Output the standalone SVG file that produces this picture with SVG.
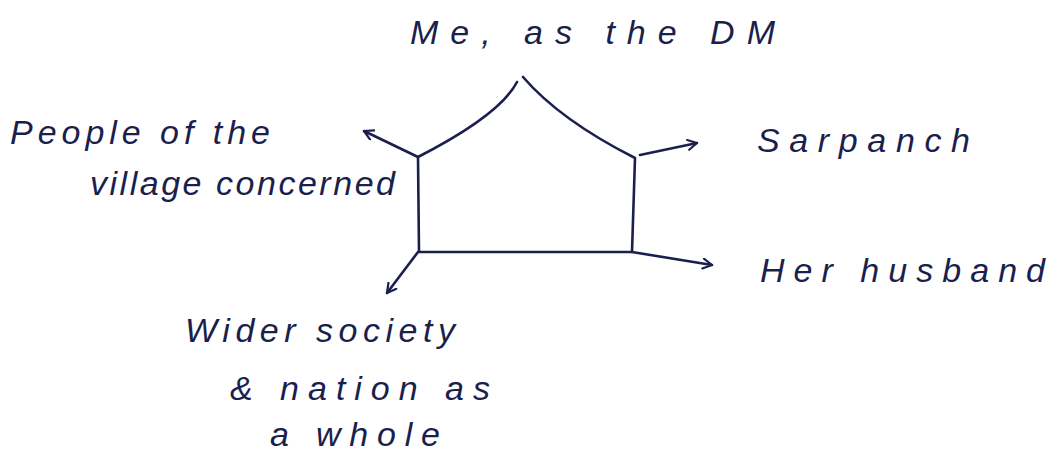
<svg xmlns="http://www.w3.org/2000/svg" width="1052" height="457" viewBox="0 0 1052 457">
<style>
.ink{fill:none;stroke:#1b1f4d;stroke-width:2.6;stroke-linecap:round;stroke-linejoin:round}
.t{font-family:"Liberation Sans",Arial,sans-serif;font-size:34px;fill:#1b1f4d;font-style:italic}
</style>
<defs>
<marker id="ah" viewBox="0 0 12 12" refX="10" refY="6" markerWidth="12" markerHeight="12" markerUnits="userSpaceOnUse" orient="auto">
<path d="M1,1 L10,6 L1,11" fill="none" stroke="#1b1f4d" stroke-width="2.2" stroke-linecap="round" stroke-linejoin="round"/>
</marker>
</defs>
<rect width="1052" height="457" fill="#ffffff"/>
<g id="node-dm">
<path class="ink" d="M517,82 Q500,115 418,157 L419,252 L632,252 L635,158 Q560,120 523,77"/>
<text class="t" x="410" y="44" textLength="365" lengthAdjust="spacing">Me, as the DM</text>
</g>
<g id="node-people">
<text class="t" x="10" y="144" textLength="260" lengthAdjust="spacing">People of the</text>
<text class="t" x="90" y="195" textLength="305" lengthAdjust="spacing">village concerned</text>
</g>
<g id="node-sarpanch">
<text class="t" x="757" y="152" textLength="213" lengthAdjust="spacing">Sarpanch</text>
</g>
<g id="node-husband">
<text class="t" x="760" y="282" textLength="285" lengthAdjust="spacing">Her husband</text>
</g>
<g id="node-society">
<text class="t" x="185" y="342" textLength="270" lengthAdjust="spacing">Wider society</text>
<text class="t" x="230" y="400" textLength="260" lengthAdjust="spacing">&amp; nation as</text>
<text class="t" x="270" y="446" textLength="170" lengthAdjust="spacing">a whole</text>
</g>
<g id="connectors">
<line class="ink" x1="418" y1="157" x2="364" y2="131" marker-end="url(#ah)"/>
<line class="ink" x1="640" y1="155" x2="697" y2="143" marker-end="url(#ah)"/>
<line class="ink" x1="632" y1="252" x2="712" y2="265" marker-end="url(#ah)"/>
<line class="ink" x1="418" y1="252" x2="387" y2="293" marker-end="url(#ah)"/>
</g>
</svg>
